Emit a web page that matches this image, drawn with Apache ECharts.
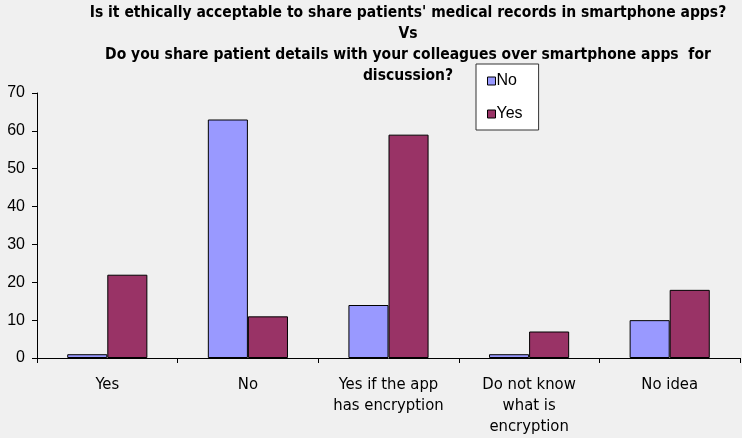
<!DOCTYPE html>
<html>
<head>
<meta charset="utf-8">
<script src="https://cdn.jsdelivr.net/npm/echarts@6/dist/echarts.min.js"></script>
<style>
  html, body { margin: 0; padding: 0; background: #f0f0f0; }
  #chart { width: 742px; height: 438px; }
</style>
</head>
<body>
<div id="chart"></div>
<script>
// 分类与数据
const categories = ["Yes", "No", "Yes if the app\nhas encryption", "Do not know\nwhat is\nencryption", "No idea"];
const noValues = [1, 63, 14, 1, 10];
const yesValues = [22, 11, 59, 7, 18];
const titleText = "Is it ethically acceptable to share patients' medical records in smartphone apps?\nVs\nDo you share patient details with your colleagues over smartphone apps  for\ndiscussion?";

const narrow = "'Liberation Sans Narrow', 'Arial Narrow', 'DejaVu Sans Condensed', sans-serif";

let chart = echarts.init(document.getElementById("chart"));
let option = {
  backgroundColor: "#f0f0f0",
  animation: false,
  title: {
    text: titleText,
    left: 403,
    textAlign: "center",
    top: -3,
    textStyle: {
      fontFamily: narrow,
      fontWeight: "bold",
      fontSize: 15.5,
      lineHeight: 21,
      color: "#000",
    },
  },
  legend: {
    orient: "vertical",
    left: 476,
    top: 64,
    padding: [9, 16, 8, 11],
    itemGap: 17,
    itemWidth: 8,
    itemHeight: 8,
    icon: "rect",
    backgroundColor: "#ffffff",
    borderColor: "#333",
    borderWidth: 1,
    textStyle: { fontFamily: "'Liberation Sans', Arial, sans-serif", fontSize: 16, color: "#000", padding: [0, 0, 0, -4] },
    itemStyle: { borderColor: "#000", borderWidth: 1 },
    data: ["No", "Yes"],
  },
  grid: { left: 37, right: 2, top: 93, bottom: 80 },
  xAxis: {
    type: "category",
    data: categories,
    axisLine: { lineStyle: { color: "#000", width: 1 } },
    axisTick: { show: true, length: 5, lineStyle: { color: "#000" } },
    axisLabel: {
      interval: 0,
      margin: 16,
      fontFamily: narrow,
      fontSize: 16.5,
      lineHeight: 21,
      color: "#000",
    },
  },
  yAxis: {
    type: "value",
    min: 0,
    max: 70,
    interval: 10,
    splitLine: { show: false },
    axisLine: { show: true, lineStyle: { color: "#000", width: 1 } },
    axisTick: { show: true, length: 5, lineStyle: { color: "#000" } },
    axisLabel: {
      margin: 12,
      fontFamily: "'Liberation Sans', Arial, sans-serif",
      fontSize: 16,
      color: "#000",
    },
  },
  series: [
    {
      name: "No",
      type: "bar",
      data: noValues,
      barGap: "0%",
      barCategoryGap: "43%",
      itemStyle: { color: "#9999ff", borderColor: "#000", borderWidth: 1 },
    },
    {
      name: "Yes",
      type: "bar",
      data: yesValues,
      barGap: "0%",
      barCategoryGap: "43%",
      itemStyle: { color: "#993366", borderColor: "#000", borderWidth: 1 },
    },
  ],
};
chart.setOption(option, true);
</script>
</body>
</html>
